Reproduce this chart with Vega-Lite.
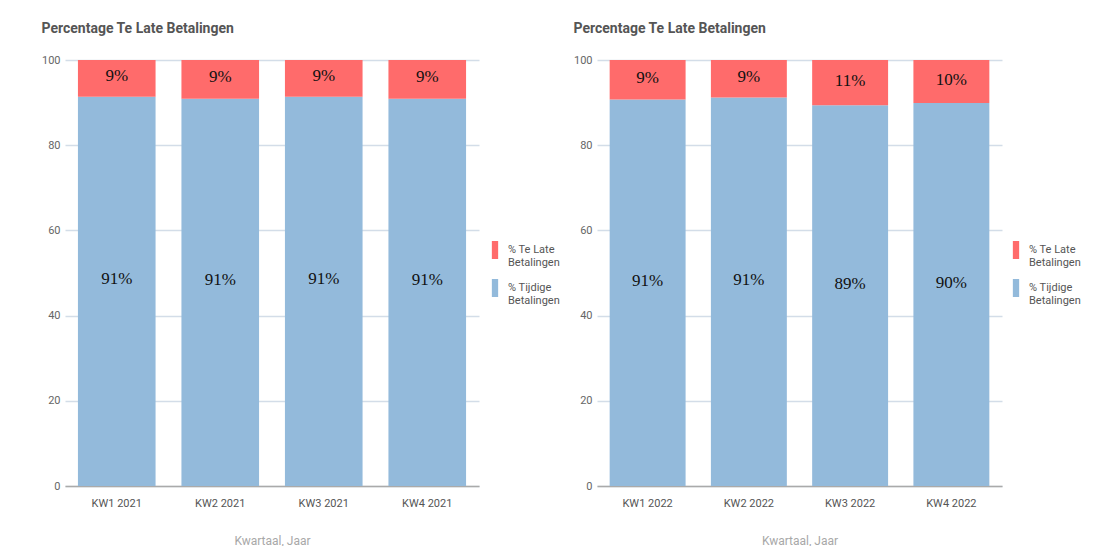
{
  "$schema": "https://vega.github.io/schema/vega-lite/v6.json",
  "background": "white",
  "padding": {"left": 41, "top": 22, "right": 0, "bottom": 0},
  "datasets": {
    "d2021": [
      {"kwartaal": "KW1 2021", "type": "% Tijdige Betalingen", "value": 91.4, "label": "91%"},
      {"kwartaal": "KW1 2021", "type": "% Te Late Betalingen", "value": 8.6, "label": "9%"},
      {"kwartaal": "KW2 2021", "type": "% Tijdige Betalingen", "value": 90.9, "label": "91%"},
      {"kwartaal": "KW2 2021", "type": "% Te Late Betalingen", "value": 9.1, "label": "9%"},
      {"kwartaal": "KW3 2021", "type": "% Tijdige Betalingen", "value": 91.4, "label": "91%"},
      {"kwartaal": "KW3 2021", "type": "% Te Late Betalingen", "value": 8.6, "label": "9%"},
      {"kwartaal": "KW4 2021", "type": "% Tijdige Betalingen", "value": 90.9, "label": "91%"},
      {"kwartaal": "KW4 2021", "type": "% Te Late Betalingen", "value": 9.1, "label": "9%"}
    ],
    "d2022": [
      {"kwartaal": "KW1 2022", "type": "% Tijdige Betalingen", "value": 90.7, "label": "91%"},
      {"kwartaal": "KW1 2022", "type": "% Te Late Betalingen", "value": 9.3, "label": "9%"},
      {"kwartaal": "KW2 2022", "type": "% Tijdige Betalingen", "value": 91.2, "label": "91%"},
      {"kwartaal": "KW2 2022", "type": "% Te Late Betalingen", "value": 8.8, "label": "9%"},
      {"kwartaal": "KW3 2022", "type": "% Tijdige Betalingen", "value": 89.4, "label": "89%"},
      {"kwartaal": "KW3 2022", "type": "% Te Late Betalingen", "value": 10.6, "label": "11%"},
      {"kwartaal": "KW4 2022", "type": "% Tijdige Betalingen", "value": 89.9, "label": "90%"},
      {"kwartaal": "KW4 2022", "type": "% Te Late Betalingen", "value": 10.1, "label": "10%"}
    ]
  },
  "spacing": 13,
  "resolve": {"scale": {"color": "independent", "y": "independent", "x": "independent"}, "legend": {"color": "independent"}},
  "hconcat": [
    {
      "width": 414,
      "height": 426,
      "title": {"text": "Percentage Te Late Betalingen"},
      "data": {"name": "d2021"},
      "encoding": {
        "x": {"field": "kwartaal", "type": "nominal", "sort": null, "title": "Kwartaal, Jaar",
              "scale": {"paddingInner": 0.25, "paddingOuter": 0.125}}
      },
      "layer": [
        {
          "mark": {"type": "bar"},
          "encoding": {
            "y": {"field": "value", "type": "quantitative", "stack": "zero", "title": null,
                  "scale": {"domain": [0, 100], "nice": false},
                  "axis": {"values": [0, 20, 40, 60, 80, 100]}},
            "color": {"field": "type", "type": "nominal", "title": null,
                      "scale": {"domain": ["% Te Late Betalingen", "% Tijdige Betalingen"], "range": ["#ff6b6b", "#93badb"]},
                      "legend": {"orient": "none", "legendX": 421, "legendY": 181,
                                 "labelExpr": "datum.label == '% Te Late Betalingen' ? ['% Te Late', 'Betalingen'] : ['% Tijdige', 'Betalingen']"}},
            "order": {"field": "type", "sort": "descending"}
          }
        },
        {
          "transform": [
            {"stack": "value", "groupby": ["kwartaal"], "sort": [{"field": "type", "order": "descending"}], "as": ["v0", "v1"]},
            {"calculate": "(datum.v0 + datum.v1) / 2", "as": "mid"},
            {"filter": "datum.type == '% Tijdige Betalingen'"}
          ],
          "mark": {"type": "text", "font": "Liberation Serif", "fontSize": 17, "color": "#111", "dy": -12},
          "encoding": {
            "y": {"field": "mid", "type": "quantitative", "title": null, "axis": {"values": [0, 20, 40, 60, 80, 100]}},
            "text": {"field": "label"}
          }
        },
        {
          "transform": [
            {"stack": "value", "groupby": ["kwartaal"], "sort": [{"field": "type", "order": "descending"}], "as": ["v0", "v1"]},
            {"calculate": "(datum.v0 + datum.v1) / 2", "as": "mid"},
            {"filter": "datum.type == '% Te Late Betalingen'"}
          ],
          "mark": {"type": "text", "font": "Liberation Serif", "fontSize": 17, "color": "#111", "dy": -2},
          "encoding": {
            "y": {"field": "mid", "type": "quantitative", "title": null, "axis": {"values": [0, 20, 40, 60, 80, 100]}},
            "text": {"field": "label"}
          }
        }
      ]
    },
    {
      "width": 405,
      "height": 426,
      "title": {"text": "Percentage Te Late Betalingen"},
      "data": {"name": "d2022"},
      "encoding": {
        "x": {"field": "kwartaal", "type": "nominal", "sort": null, "title": "Kwartaal, Jaar",
              "scale": {"paddingInner": 0.25, "paddingOuter": 0.125}}
      },
      "layer": [
        {
          "mark": {"type": "bar"},
          "encoding": {
            "y": {"field": "value", "type": "quantitative", "stack": "zero", "title": null,
                  "scale": {"domain": [0, 100], "nice": false},
                  "axis": {"values": [0, 20, 40, 60, 80, 100]}},
            "color": {"field": "type", "type": "nominal", "title": null,
                      "scale": {"domain": ["% Te Late Betalingen", "% Tijdige Betalingen"], "range": ["#ff6b6b", "#93badb"]},
                      "legend": {"orient": "none", "legendX": 410, "legendY": 181,
                                 "labelExpr": "datum.label == '% Te Late Betalingen' ? ['% Te Late', 'Betalingen'] : ['% Tijdige', 'Betalingen']"}},
            "order": {"field": "type", "sort": "descending"}
          }
        },
        {
          "transform": [
            {"stack": "value", "groupby": ["kwartaal"], "sort": [{"field": "type", "order": "descending"}], "as": ["v0", "v1"]},
            {"calculate": "(datum.v0 + datum.v1) / 2", "as": "mid"},
            {"filter": "datum.type == '% Tijdige Betalingen'"}
          ],
          "mark": {"type": "text", "font": "Liberation Serif", "fontSize": 17, "color": "#111", "dy": -12},
          "encoding": {
            "y": {"field": "mid", "type": "quantitative", "title": null, "axis": {"values": [0, 20, 40, 60, 80, 100]}},
            "text": {"field": "label"}
          }
        },
        {
          "transform": [
            {"stack": "value", "groupby": ["kwartaal"], "sort": [{"field": "type", "order": "descending"}], "as": ["v0", "v1"]},
            {"calculate": "(datum.v0 + datum.v1) / 2", "as": "mid"},
            {"filter": "datum.type == '% Te Late Betalingen'"}
          ],
          "mark": {"type": "text", "font": "Liberation Serif", "fontSize": 17, "color": "#111", "dy": -2},
          "encoding": {
            "y": {"field": "mid", "type": "quantitative", "title": null, "axis": {"values": [0, 20, 40, 60, 80, 100]}},
            "text": {"field": "label"}
          }
        }
      ]
    }
  ],
  "config": {
    "view": {"stroke": null},
    "font": "Roboto",
    "title": {"anchor": "start", "frame": "bounds", "fontSize": 14, "fontWeight": "bold", "color": "#555555",
              "font": "Roboto", "offset": 18},
    "axisY": {"grid": true, "gridColor": "#d3dde8", "gridWidth": 1.5, "domain": false, "ticks": false,
              "labelPadding": 5, "labelColor": "#666666", "labelFontSize": 11, "labelFont": "Roboto"},
    "axisX": {"grid": false, "domain": true, "domainColor": "#aaaaaa", "domainWidth": 1.5, "ticks": false,
              "labelAngle": 0, "labelPadding": 11, "labelColor": "#555555", "labelFontSize": 11, "labelFont": "Roboto",
              "titleColor": "#a8a8a8", "titleFontWeight": "normal", "titleFontSize": 12, "titleFont": "Roboto", "titlePadding": 27},
    "legend": {"labelFontSize": 11, "labelColor": "#555555", "labelOffset": 4, "rowPadding": 11, "labelFont": "Roboto",
               "symbolType": "M-0.35,-1L0.35,-1L0.35,1L-0.35,1Z", "symbolSize": 324, "symbolStrokeWidth": 0}
  }
}
